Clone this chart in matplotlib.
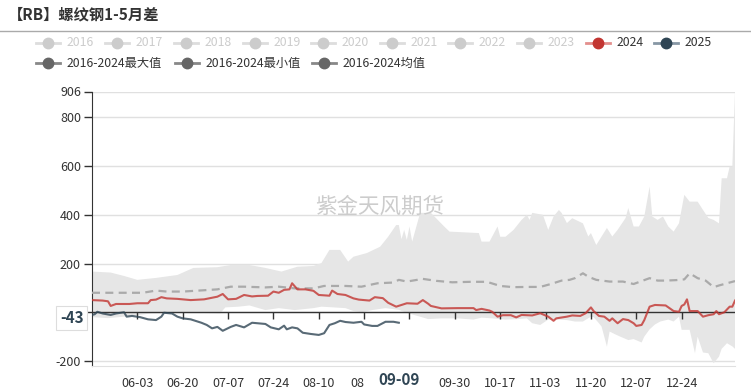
import numpy as np
import pandas as pd
import matplotlib
matplotlib.use('Agg')
import matplotlib.pyplot as plt
from matplotlib.lines import Line2D

plt.rcParams['font.family'] = ['Noto Sans CJK SC', 'DejaVu Sans']

W, H = 751, 391

# 日期轴: 05-17 起, 共 242 天
START = '2024-05-17'
N_DAYS = 242
TICK_STEP = 17

# 2016-2024 最大值 (天序号, 数值)
max_day = [0, 7, 12, 17, 24, 32, 38, 47, 52, 59,
           65, 71, 77, 83, 86, 89, 93, 96, 98, 103,
           108, 111, 114, 115, 116, 117, 118, 119, 120, 123,
           127, 132, 134, 145, 146, 149, 152, 153, 155, 158,
           161, 163, 164, 165, 169, 171, 173, 175, 176, 178,
           180, 184, 186, 187, 189, 191, 193, 195, 197, 200,
           201, 203, 205, 207, 209, 210, 212, 214, 216, 218,
           220, 222, 224, 227, 229, 231, 233, 235, 236, 238,
           239, 240, 241]
max_val = [167, 163, 149, 133, 141, 153, 182, 185, 194, 194,
           182, 167, 187, 190, 202, 256, 256, 208, 228, 243,
           269, 310, 358, 358, 300, 338, 297, 352, 290, 408,
           408, 352, 331, 325, 290, 290, 352, 310, 310, 338,
           379, 400, 379, 408, 400, 338, 393, 420, 408, 366,
           386, 365, 311, 325, 276, 311, 346, 311, 338, 387,
           428, 352, 352, 393, 516, 393, 379, 393, 352, 331,
           365, 482, 454, 454, 420, 387, 379, 365, 550, 550,
           598, 598, 906]

# 2016-2024 最小值
min_day = [0, 6, 12, 17, 22, 30, 40, 48, 50, 55,
           59, 65, 70, 76, 83, 86, 95, 98, 101, 105,
           110, 115, 118, 122, 126, 131, 137, 143, 146, 150,
           155, 160, 163, 165, 168, 171, 175, 178, 181, 184,
           187, 188, 190, 191, 193, 194, 196, 198, 201, 203,
           206, 207, 209, 211, 213, 216, 218, 220, 221, 224,
           226, 227, 229, 231, 233, 235, 236, 238, 240, 241]
min_val = [-20, -24, -18, -12, -5, -3, -2, -5, 20, 23,
           28, 9, 17, 9, 17, 23, 17, 5, 0, 9,
           17, 10, -3, -15, -28, -25, -25, -30, -22, -25,
           -30, -28, -25, -45, -52, -30, -30, -32, -38, -38,
           -18, -20, -45, -59, -141, -79, -90, -100, -114, -110,
           -124, -100, -70, -50, -38, -30, -38, -18, -72, -72,
           -168, -100, -165, -168, -209, -182, -150, -127, -140, -150]

# 2016-2024 均值
mean_day = [0, 10, 19, 24, 28, 34, 40, 47, 52, 57,
            65, 70, 76, 83, 87, 95, 101, 107, 113, 115,
            118, 124, 129, 135, 142, 148, 153, 158, 163, 168,
            172, 176, 179, 181, 184, 186, 189, 194, 199, 203,
            209, 212, 215, 219, 222, 224, 227, 230, 233, 235,
            238, 241]
mean_val = [80, 80, 80, 89, 85, 85, 89, 94, 105, 105,
            102, 105, 98, 98, 108, 108, 105, 119, 122, 133,
            126, 137, 129, 123, 125, 125, 108, 103, 104, 104,
            116, 130, 133, 140, 160, 146, 133, 126, 126, 116,
            140, 130, 130, 132, 135, 160, 140, 130, 103, 110,
            119, 128]

# 2024
y2024_day = [0, 4, 6, 7, 9, 14, 17, 21, 22, 24,
             26, 28, 32, 37, 42, 47, 49, 51, 54, 57,
             60, 62, 66, 68, 70, 72, 74, 75, 77, 80,
             83, 85, 89, 90, 92, 95, 98, 100, 104, 106,
             109, 111, 114, 116, 118, 122, 124, 126, 127, 131,
             137, 143, 144, 146, 149, 150, 152, 154, 157, 159,
             161, 165, 168, 171, 173, 174, 178, 180, 183, 185,
             187, 188, 190, 192, 194, 195, 197, 199, 201, 203,
             204, 206, 207, 209, 211, 215, 218, 220, 221, 222,
             223, 224, 227, 229, 231, 233, 234, 235, 237, 239,
             240, 241]
y2024_val = [50, 48, 45, 26, 34, 34, 37, 37, 50, 52,
             62, 57, 55, 50, 53, 64, 75, 53, 55, 71,
             65, 67, 68, 85, 80, 92, 94, 119, 94, 94,
             88, 71, 68, 89, 75, 71, 57, 52, 48, 62,
             58, 39, 23, 30, 37, 35, 50, 35, 26, 16,
             17, 17, 9, 14, 7, 2, -18, -12, -12, -21,
             -11, -13, -4, -18, -35, -25, -18, -13, -15, -4,
             20, 5, -15, -18, -35, -25, -45, -28, -32, -45,
             -56, -52, -32, 23, 30, 28, 5, 2, 26, 32,
             53, 5, 5, -18, -12, -8, 5, -8, 0, 23,
             23, 48]

# 2025
y2025_day = [0, 1, 2, 4, 7, 9, 12, 13, 15, 18,
             21, 24, 26, 27, 30, 32, 34, 37, 41, 43,
             45, 47, 49, 52, 54, 57, 60, 62, 65, 67,
             70, 72, 73, 75, 77, 79, 82, 85, 87, 89,
             91, 93, 95, 98, 101, 102, 105, 107, 110, 113,
             115]
y2025_val = [-11, -8, 2, -5, -11, -5, 0, -18, -15, -20,
             -29, -32, -18, -2, -5, -18, -25, -29, -43, -52,
             -66, -60, -76, -60, -52, -62, -43, -45, -48, -62,
             -70, -55, -70, -62, -66, -84, -89, -93, -86, -52,
             -45, -35, -40, -43, -39, -50, -56, -56, -39, -39,
             -43]

y_ticks = [-200, 0, 200, 400, 600, 800, 906]
Y_MIN, Y_MAX = -220.5, 906
pointer_day = 115          # 09-09
pointer_val = -43

years = ['2016', '2017', '2018', '2019', '2020', '2021', '2022', '2023', '2024', '2025']
stat_labels = ['2016-2024最大值', '2016-2024最小值', '2016-2024均值']

dates = pd.date_range(START, periods=N_DAYS, freq='D').strftime('%m-%d')
tick_days = list(range(TICK_STEP, N_DAYS - 10, TICK_STEP))

fig = plt.figure(figsize=(W / 100, H / 100), dpi=100)
ax = fig.add_axes([92 / W, 1 - 366 / H, (735 - 92) / W, (366 - 91.5) / H])

# 区间带
band_x = list(max_day) + list(min_day[::-1])
band_y = list(max_val) + list(min_val[::-1])
ax.fill(band_x, band_y, color='#e6e6e6', lw=0, zorder=1)

ax.plot(mean_day, mean_val, color='#aaaaaa', lw=1.6, dashes=(3.6, 2.4), zorder=3)
ax.plot(y2024_day, y2024_val, color='#c23531', alpha=0.8, lw=1.5, zorder=4)
ax.plot(y2025_day, y2025_val, color='#2f4554', alpha=0.8, lw=1.5, zorder=4)

# 零轴
ax.axhline(0, color='#333333', lw=1, zorder=2)
ax.plot(tick_days, [0] * len(tick_days), ls='none', marker=3, ms=5, mew=1,
        color='#333333', zorder=2)

# 被指示标签遮住的刻度文字: 08-27 只露出 "08", 09-13 与 0 不可见
xlabels = []
for d in tick_days:
    lab = dates[d]
    if abs(d - pointer_day) < 8:
        lab = ''
    elif abs(d - pointer_day) < 16:
        lab = lab[:2]
    xlabels.append(lab)

ax.set_xlim(0, N_DAYS - 1)
ax.set_ylim(Y_MIN, Y_MAX)
ax.set_yticks(y_ticks)
ax.set_yticklabels(['' if v == 0 else str(v) for v in y_ticks])
ax.set_xticks(tick_days)
ax.set_xticklabels(xlabels)
ax.grid(axis='y', color='#e0e0e0', lw=1)
ax.set_axisbelow(True)
ax.tick_params(axis='x', length=0, pad=8, labelsize=9, labelcolor='#333333')
ax.tick_params(axis='y', length=6, width=1, color='#333333', pad=2,
               labelsize=9, labelcolor='#333333')
for s in ['top', 'right']:
    ax.spines[s].set_visible(False)
ax.spines['bottom'].set_color('#e0e0e0')
ax.spines['left'].set_color('#333333')
for lab in ax.get_xticklabels():
    if lab.get_text() == dates[102][:2]:
        lab.set_horizontalalignment('right')
        lab.set_x(lab.get_position()[0])

# 坐标指示标签
ax.text(pointer_day, -0.052, dates[pointer_day], transform=ax.get_xaxis_transform(),
        ha='center', va='center', fontsize=11, weight='bold', color='#2f4554',
        clip_on=False, zorder=6)
ax.annotate(str(pointer_val), xy=(0, pointer_val), xycoords=ax.get_yaxis_transform(),
            xytext=(-6, 3.5), textcoords='offset points',
            ha='right', va='center', fontsize=11, weight='bold', color='#2f4554',
            bbox=dict(boxstyle='square,pad=0.25', fc='white', ec='#dddddd', lw=0.8),
            annotation_clip=False, zorder=6)

# 水印
fig.text(380 / W, 1 - 207 / H, '紫金天风期货', fontsize=15.5, color='#cccccc',
         ha='center', va='center')

# 标题
fig.text(8 / W, 1 - 14 / H, '【RB】螺纹钢1-5月差', fontsize=11, weight='bold',
         color='#333333', va='center')
fig.add_artist(Line2D([0, 1], [1 - 31 / H] * 2, color='#aaaaaa', lw=1))


def legend_item(cx, cy, label, line_c, dot_c, text_c):
    fig.add_artist(Line2D([(cx - 12) / W, (cx + 12) / W], [1 - cy / H] * 2,
                          color=line_c, lw=2))
    fig.add_artist(Line2D([cx / W], [1 - cy / H], marker='o', ms=7.5,
                          color=dot_c, ls='none'))
    fig.text((cx + 19) / W, 1 - cy / H, label, fontsize=8.8, color=text_c,
             va='center', ha='left')


year_x = [48, 117, 186, 255, 323, 392, 460, 529, 598, 666]
for yr, cx in zip(years, year_x):
    if yr == '2024':
        legend_item(cx, 43, yr, '#e38f8d', '#c23531', '#333333')
    elif yr == '2025':
        legend_item(cx, 43, yr, '#8797a5', '#2f4554', '#333333')
    else:
        legend_item(cx, 43, yr, '#dddddd', '#cccccc', '#cccccc')

for lab, cx in zip(stat_labels, [48, 187, 324]):
    legend_item(cx, 63, lab, '#888888', '#666666', '#333333')

fig.savefig('out.png', dpi=100)
